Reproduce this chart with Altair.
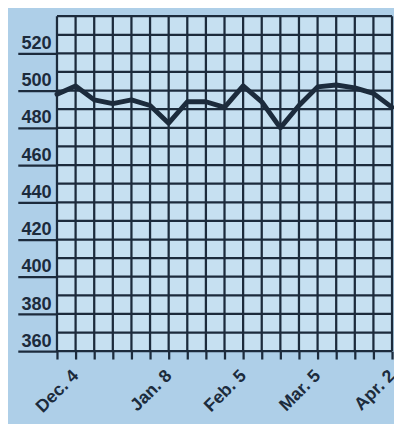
import altair as alt
import pandas as pd

# --- data ---
week_index = list(range(19))
week_labels = ["Nov. 27", "Dec. 4", "Dec. 11", "Dec. 18", "Dec. 25", "Jan. 1",
               "Jan. 8", "Jan. 15", "Jan. 22", "Jan. 29", "Feb. 5", "Feb. 12",
               "Feb. 19", "Feb. 26", "Mar. 5", "Mar. 12", "Mar. 19", "Mar. 26",
               "Apr. 2"]
labeled_weeks = [1, 6, 10, 14, 18]
values = [498, 502.5, 495, 493, 495, 492, 482.5, 494, 494, 491, 502.5, 494,
          480, 492, 502, 503, 501.5, 498.5, 491]
y_labels = [360, 380, 400, 420, 440, 460, 480, 500, 520]
y_grid = [360, 370, 380, 390, 400, 410, 420, 430, 440, 450, 460, 470, 480,
          490, 500, 510, 520, 530, 540]

DARK = "#1c2b3c"
FONT = "Liberation Sans"

df = pd.DataFrame({"week": week_index, "value": values, "label": week_labels})
vgrid = pd.DataFrame({"week": week_index})
hgrid = pd.DataFrame({"value": y_grid})

xscale = alt.Scale(domain=[0, 18], nice=False, zero=False)
yscale = alt.Scale(domain=[360, 540], nice=False, zero=False)

label_expr = " : ".join(
    f"datum.value == {w} ? '{week_labels[w]}'" for w in labeled_weeks
) + " : ''"

x_axis = alt.Axis(values=week_index, labelExpr=label_expr,
                  tickSize=8, tickWidth=2.3, tickColor=DARK,
                  domain=False, grid=False, labelAngle=315,
                  labelAlign="right", labelBaseline="middle",
                  labelPadding=14, labelFont=FONT, labelFontSize=18,
                  labelFontWeight="bold", labelColor=DARK,
                  labelOverlap=False, labelFlush=False, title=None)
y_axis = alt.Axis(values=y_labels, tickSize=40, tickWidth=2.3,
                  tickColor=DARK, domain=False, grid=False,
                  labelPadding=-34, labelAlign="right",
                  labelBaseline="alphabetic", labelOffset=-5,
                  labelFont=FONT, labelFontSize=18.5,
                  labelFontWeight="bold", labelColor=DARK,
                  labelOverlap=False, labelFlush=False, title=None)

vlines = alt.Chart(vgrid).mark_rule(color=DARK, strokeWidth=2.3).encode(
    x=alt.X("week:Q", scale=xscale, axis=x_axis)
)
hlines = alt.Chart(hgrid).mark_rule(color=DARK, strokeWidth=2.3).encode(
    y=alt.Y("value:Q", scale=yscale, axis=y_axis)
)

line = alt.Chart(df).mark_line(
    color=DARK, strokeWidth=5, strokeJoin="round", strokeCap="round"
).encode(
    x=alt.X("week:Q", scale=xscale, axis=x_axis),
    y=alt.Y("value:Q", scale=yscale, axis=y_axis),
)

chart = alt.layer(vlines, hlines, line).properties(
    width=342, height=342,
    autosize=alt.AutoSizeParams(type="none"),
    padding={"left": 50, "top": 4, "right": 2, "bottom": 70},
    background="#aecfe8",
).configure_view(fill="#c6e0f1", stroke=None)

chart.save("out.html", embed_options={"renderer": "svg", "actions": False})
